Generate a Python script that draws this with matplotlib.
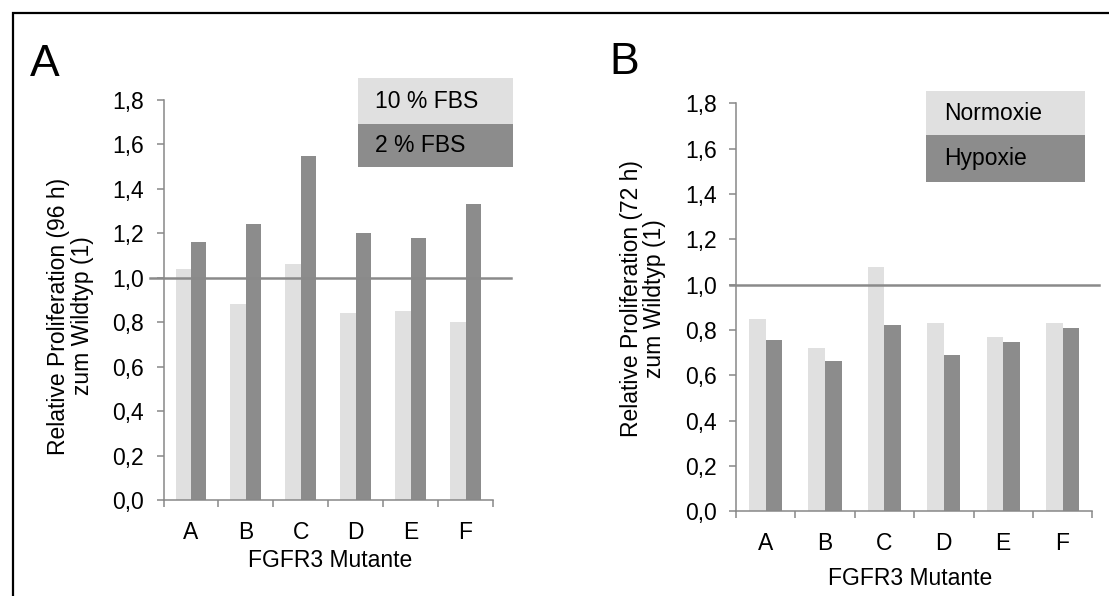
import numpy as np
import matplotlib
matplotlib.use('Agg')
import matplotlib.pyplot as plt
from matplotlib.patches import Rectangle

plt.rcParams['font.family'] = ['Liberation Sans', 'DejaVu Sans']

# data
mutants = ['A', 'B', 'C', 'D', 'E', 'F']
fbs10 = [1.04, 0.88, 1.06, 0.84, 0.85, 0.80]
fbs2 = [1.16, 1.24, 1.55, 1.20, 1.18, 1.33]
normoxie = [0.85, 0.72, 1.08, 0.83, 0.77, 0.83]
hypoxie = [0.755, 0.662, 0.823, 0.69, 0.748, 0.81]
yticks = [0.0, 0.2, 0.4, 0.6, 0.8, 1.0, 1.2, 1.4, 1.6, 1.8]

W, H = 1109, 596
light = '#e0e0e0'
dark = '#8c8c8c'
axcol = '#888888'
fs = 16.5

fig = plt.figure(figsize=(W / 100, H / 100), dpi=100)

def px(x, y):
    # figure pixel coords (top-left origin) -> figure fraction
    return x / W, 1 - y / H

def make_axes(left, right, top, bottom):
    l, t = px(left, top)
    r, b = px(right, bottom)
    return fig.add_axes([l, b, r - l, t - b])

def draw_panel(ax, s1, s2, line_x):
    x = np.arange(len(mutants))
    w = 0.28
    ax.bar(x - w / 2, s1, w, color=light)
    ax.bar(x + w / 2, s2, w, color=dark)
    ax.set_xlim(-0.5, len(mutants) - 0.5)
    ax.set_ylim(0, 1.8)
    ax.set_yticks(yticks)
    ax.set_yticklabels([('%.1f' % v).replace('.', ',') for v in yticks], fontsize=fs)
    ax.set_xticks(np.arange(len(mutants) + 1) - 0.5)
    ax.set_xticklabels([])
    ax.set_xticks(x, minor=True)
    ax.set_xticklabels(mutants, minor=True, fontsize=fs)
    ax.tick_params(axis='x', which='minor', length=0, pad=15)
    ax.tick_params(axis='both', which='major', direction='out', length=5,
                   width=1.1, color=axcol, pad=9)
    for s in ['top', 'right']:
        ax.spines[s].set_visible(False)
    for s in ['left', 'bottom']:
        ax.spines[s].set_color(axcol)
        ax.spines[s].set_linewidth(1.1)
    ax.axhline(1.0, xmin=line_x[0], xmax=line_x[1], color='#8a8a8a', lw=1.8,
               clip_on=False, zorder=3)
    ax.set_facecolor('none')

axA = make_axes(163.5, 493, 100, 500)
draw_panel(axA, fbs10, fbs2, (-0.041, 1.054))
axB = make_axes(736, 1092.3, 103.4, 511.4)
draw_panel(axB, normoxie, hypoxie, (-0.017, 1.020))

# axis labels
fig.text(*px(70.5, 316), 'Relative Proliferation (96 h)\nzum Wildtyp (1)', rotation=90,
         ha='center', va='center', multialignment='center', fontsize=fs, linespacing=1.05)
fig.text(*px(643, 299), 'Relative Proliferation (72 h)\nzum Wildtyp (1)', rotation=90,
         ha='center', va='center', multialignment='center', fontsize=fs, linespacing=1.05)
fig.text(*px(330, 567), 'FGFR3 Mutante', ha='center', va='baseline', fontsize=fs)
fig.text(*px(910, 585), 'FGFR3 Mutante', ha='center', va='baseline', fontsize=fs)

# panel letters
fig.text(*px(30, 76), 'A', ha='left', va='baseline', fontsize=32)
fig.text(*px(609, 74.5), 'B', ha='left', va='baseline', fontsize=32)

# legend boxes
def legend_box(x0, x1, ys, labels, tx):
    for (y0, y1), lab, c in zip(ys, labels, [light, dark]):
        l, b = px(x0, y1)
        r, t = px(x1, y0)
        fig.patches.append(Rectangle((l, b), r - l, t - b, transform=fig.transFigure,
                                     facecolor=c, edgecolor='none'))
        fig.text(*px(tx, (y0 + y1) / 2), lab, ha='left', va='center', fontsize=fs)

legend_box(358, 513, [(78, 124), (124, 166.5)], ['10 % FBS', '2 % FBS'], 375)
legend_box(926, 1084.5, [(91, 135), (135, 181.7)], ['Normoxie', 'Hypoxie'], 944)

# outer frame
l, t = px(13, 13)
fig.patches.append(Rectangle((l, -0.1), 1.2, t + 0.1, transform=fig.transFigure,
                             facecolor='none', edgecolor='black', lw=1.6))

fig.savefig('out.png', dpi=100)
